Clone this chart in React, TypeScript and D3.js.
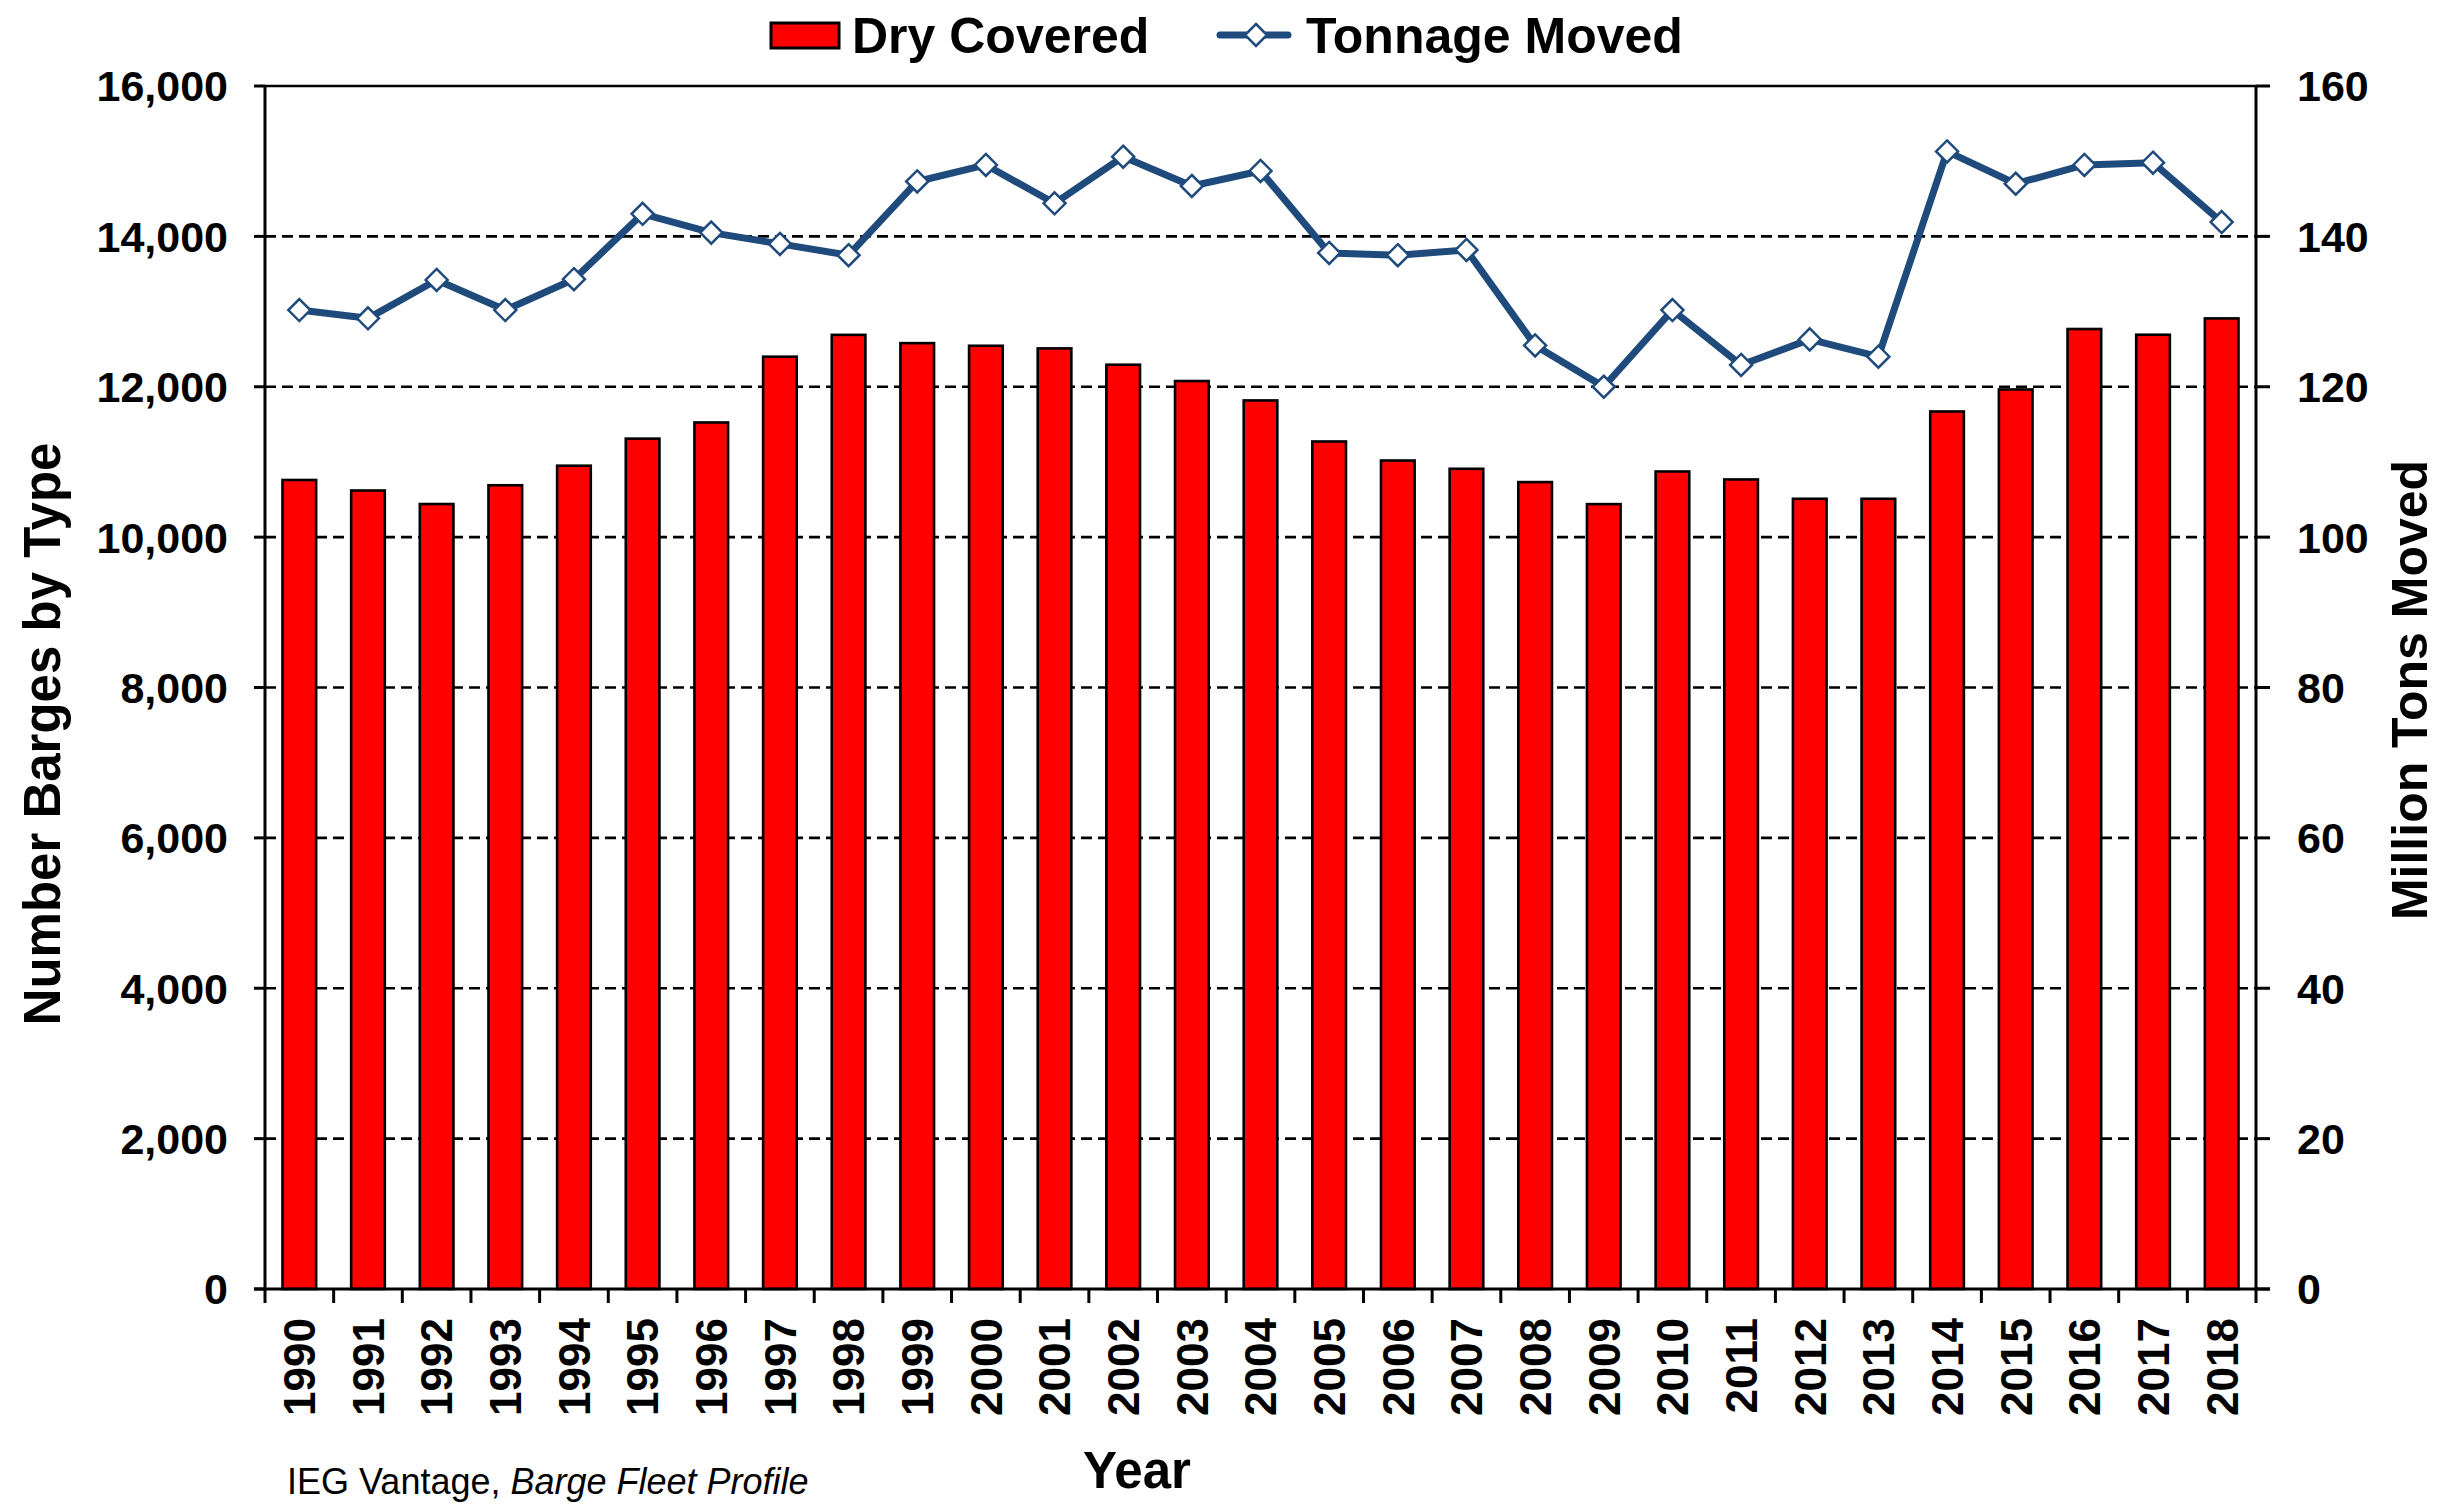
import React from "react";
import * as d3 from "d3";

const years: string[] = [
  "1990","1991","1992","1993","1994","1995","1996","1997","1998","1999",
  "2000","2001","2002","2003","2004","2005","2006","2007","2008","2009",
  "2010","2011","2012","2013","2014","2015","2016","2017","2018",
];
const dryCovered: number[] = [
  10760, 10620, 10440, 10690, 10950, 11310, 11525, 12400, 12690, 12580,
  12545, 12510, 12293, 12076, 11818, 11272, 11019, 10909, 10732, 10439,
  10873, 10767, 10510, 10510, 11671, 11964, 12768, 12692, 12909,
];
const tonnageMoved: number[] = [
  130.2, 129.1, 134.2, 130.2, 134.3, 143.0, 140.5, 139.0, 137.5, 147.3,
  149.5, 144.4, 150.6, 146.7, 148.7, 137.8, 137.5, 138.2, 125.5, 120.0,
  130.2, 122.9, 126.3, 124.0, 151.3, 147.0, 149.5, 149.8, 141.9,
];
const leftTicks: number[] = [0, 2000, 4000, 6000, 8000, 10000, 12000, 14000, 16000];
const rightTicks: number[] = [0, 20, 40, 60, 80, 100, 120, 140, 160];

const W = 2437;
const H = 1505;
const M = { left: 265, right: 2256, top: 86, bottom: 1289 };
const FONT = "'Liberation Sans', Arial, sans-serif";
const BLUE = "#1F4A7C";

export default function App() {
  const x = d3
    .scaleBand<string>()
    .domain(years)
    .range([M.left, M.right])
    .paddingInner(0.51)
    .paddingOuter(0.255);
  const step = x.step();
  const yL = d3.scaleLinear().domain([0, 16000]).range([M.bottom, M.top]);
  const yR = d3.scaleLinear().domain([0, 160]).range([M.bottom, M.top]);
  const cx = (d: string) => (x(d) as number) + x.bandwidth() / 2;

  const line = d3
    .line<number>()
    .x((_, i) => cx(years[i]))
    .y((v) => yR(v));

  const diamond = (px: number, py: number, r: number) =>
    `M${px},${py - r}L${px + r},${py}L${px},${py + r}L${px - r},${py}Z`;

  const boundaries = d3.range(years.length + 1).map((i) => M.left + i * step);

  return (
    <svg width={W} height={H} style={{ display: "block", position: "absolute", left: 0, top: 0 }} fontFamily={FONT}>
      <rect width={W} height={H} fill="#fff" />
      {/* gridlines */}
      {leftTicks.filter((t) => t > 0 && t < 16000).map((t) => (
        <line key={t} x1={M.left} x2={M.right} y1={yL(t)} y2={yL(t)} stroke="#000" strokeWidth={2.6} strokeDasharray="11 6" />
      ))}
      <line x1={M.left} x2={M.right} y1={yL(16000)} y2={yL(16000)} stroke="#000" strokeWidth={2.6} />
      {/* bars */}
      {years.map((yr, i) => (
        <rect
          key={yr}
          x={x(yr) as number}
          y={yL(dryCovered[i])}
          width={x.bandwidth()}
          height={yL(0) - yL(dryCovered[i])}
          fill="#FF0000"
          stroke="#000"
          strokeWidth={2.6}
        />
      ))}
      {/* axes */}
      <line x1={M.left} x2={M.left} y1={M.top} y2={M.bottom} stroke="#000" strokeWidth={3} />
      <line x1={M.right} x2={M.right} y1={M.top} y2={M.bottom} stroke="#000" strokeWidth={3} />
      <line x1={M.left - 11} x2={M.right + 14} y1={M.bottom} y2={M.bottom} stroke="#000" strokeWidth={3} />
      {leftTicks.map((t) => (
        <g key={"l" + t}>
          <line x1={M.left - 11} x2={M.left} y1={yL(t)} y2={yL(t)} stroke="#000" strokeWidth={3} />
          <text x={228} y={yL(t)} dy="0.36em" textAnchor="end" fontSize={43} fontWeight="bold">
            {d3.format(",")(t)}
          </text>
        </g>
      ))}
      {rightTicks.map((t) => (
        <g key={"r" + t}>
          <line x1={M.right} x2={M.right + 14} y1={yR(t)} y2={yR(t)} stroke="#000" strokeWidth={3} />
          <text x={2297} y={yR(t)} dy="0.36em" textAnchor="start" fontSize={43} fontWeight="bold">
            {t}
          </text>
        </g>
      ))}
      {boundaries.map((bx, i) => (
        <line key={"b" + i} x1={bx} x2={bx} y1={M.bottom} y2={M.bottom + 14} stroke="#000" strokeWidth={3} />
      ))}
      {years.map((yr) => (
        <text
          key={"t" + yr}
          transform={`translate(${cx(yr)},${M.bottom + 29}) rotate(-90)`}
          dy="0.36em"
          textAnchor="end"
          fontSize={44}
          fontWeight="bold"
        >
          {yr}
        </text>
      ))}
      {/* line series */}
      <path d={line(tonnageMoved) as string} fill="none" stroke={BLUE} strokeWidth={7} strokeLinejoin="round" />
      {tonnageMoved.map((v, i) => (
        <path key={"d" + i} d={diamond(cx(years[i]), yR(v), 11)} fill="#fff" stroke={BLUE} strokeWidth={2.5} />
      ))}
      {/* axis titles */}
      <text transform="translate(60,734) rotate(-90)" textAnchor="middle" fontSize={51} fontWeight="bold">
        Number Barges by Type
      </text>
      <text transform="translate(2427,690) rotate(-90)" textAnchor="middle" fontSize={50} fontWeight="bold">
        Million Tons Moved
      </text>
      <text x={1137} y={1488} textAnchor="middle" fontSize={51} fontWeight="bold">
        Year
      </text>
      <text x={287} y={1494} fontSize={36}>
        IEG Vantage, <tspan fontStyle="italic">Barge Fleet Profile</tspan>
      </text>
      {/* legend */}
      <rect x={771} y={23} width={68} height={25} fill="#FF0000" stroke="#000" strokeWidth={3} />
      <text x={852} y={53} fontSize={50} fontWeight="bold">Dry Covered</text>
      <line x1={1220} x2={1288} y1={35} y2={35} stroke={BLUE} strokeWidth={7} strokeLinecap="round" />
      <path d={diamond(1256, 35, 11)} fill="#fff" stroke={BLUE} strokeWidth={2.5} />
      <text x={1306} y={53} fontSize={50} fontWeight="bold">Tonnage Moved</text>
    </svg>
  );
}
